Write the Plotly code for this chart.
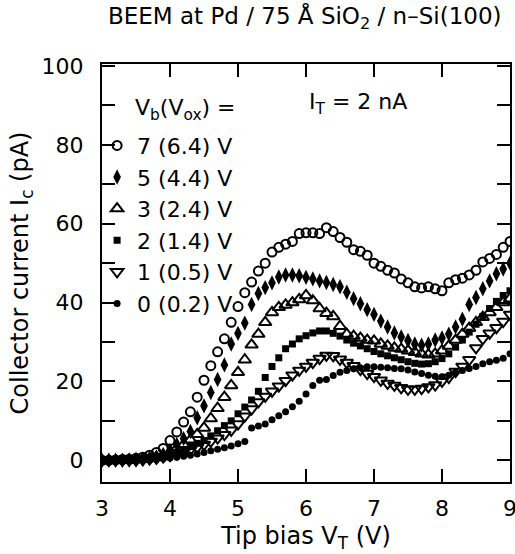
import plotly.graph_objects as go

# tip bias V_T (V)
tip_bias = [3.0, 3.1, 3.2, 3.3, 3.4, 3.5, 3.6, 3.7, 3.8, 3.9,
            4.0, 4.1, 4.2, 4.3, 4.4, 4.5, 4.6, 4.7, 4.8, 4.9,
            5.0, 5.1, 5.2, 5.3, 5.4, 5.5, 5.6, 5.7, 5.8, 5.9,
            6.0, 6.1, 6.2, 6.3, 6.4, 6.5, 6.6, 6.7, 6.8, 6.9,
            7.0, 7.1, 7.2, 7.3, 7.4, 7.5, 7.6, 7.7, 7.8, 7.9,
            8.0, 8.1, 8.2, 8.3, 8.4, 8.5, 8.6, 8.7, 8.8, 8.9, 9.0]

# collector current (pA) for each Vb
ic_7 = [0.0, 0.0, 0.1, 0.2, 0.3, 0.5, 0.8, 1.3, 2.0, 3.0,
        5.0, 7.2, 9.7, 12.3, 16.0, 20.3, 24.0, 27.5, 30.8, 35.0,
        39.0, 42.5, 45.2, 48.0, 50.0, 52.8, 54.0, 54.8, 55.5, 57.5,
        57.7, 57.7, 57.5, 59.0, 58.0, 56.5, 55.3, 53.4, 53.0, 52.0,
        50.0, 49.2, 48.2, 47.5, 46.0, 45.0, 44.0, 43.7, 44.0, 43.5,
        43.0, 45.0, 45.8, 46.2, 47.0, 48.2, 50.3, 51.2, 52.2, 54.0, 55.5]
ic_5 = [0.0, 0.0, 0.0, 0.0, 0.1, 0.2, 0.3, 0.5, 0.8, 1.5,
        2.5, 4.0, 5.5, 7.3, 10.8, 13.8, 17.2, 20.5, 24.2, 29.5,
        32.2, 34.8, 39.5, 42.3, 43.8, 45.0, 46.5, 47.0, 47.0, 46.8,
        46.4, 46.0, 45.5, 45.1, 44.6, 44.0, 42.6, 41.0, 39.7, 38.2,
        37.0, 35.3, 33.8, 32.3, 31.3, 30.4, 29.5, 29.2, 29.5, 30.5,
        31.0, 32.0, 33.8, 35.8, 39.5, 41.3, 43.5, 45.5, 47.3, 48.5, 50.0]
ic_3 = [0.0, 0.0, 0.0, 0.0, 0.1, 0.2, 0.3, 0.5, 0.8, 1.3,
        2.0, 3.0, 4.0, 5.2, 6.6, 8.2, 10.6, 13.2, 16.0, 19.0,
        22.3, 25.5, 29.3, 32.0, 35.0, 37.5, 38.8, 39.4, 40.0, 40.8,
        41.8, 40.5, 38.5, 37.3, 36.5, 34.0, 32.0, 31.5, 31.0, 30.5,
        30.3, 29.5, 29.0, 28.5, 28.2, 27.8, 27.4, 27.0, 26.8, 27.0,
        27.8, 29.0, 30.5, 32.0, 33.5, 35.0, 36.3, 37.5, 38.8, 40.0, 41.0]
ic_2 = [0.0, 0.0, 0.0, 0.0, 0.0, 0.1, 0.2, 0.4, 0.7, 1.0,
        1.5, 2.0, 2.7, 3.5, 4.3, 5.0, 6.2, 7.5, 8.8, 10.0,
        11.8, 13.5, 15.3, 17.5, 21.0, 23.8, 26.0, 28.3, 29.5, 30.8,
        31.6, 32.3, 32.8, 32.8, 32.2, 31.5, 30.5, 29.7, 29.0, 28.3,
        27.6, 27.0, 26.5, 26.0, 25.5, 25.0, 24.6, 24.4, 24.5, 25.0,
        25.8, 27.0, 28.7, 30.5, 32.5, 34.5, 36.5, 38.5, 40.3, 41.8, 43.0]
ic_1 = [0.0, 0.0, 0.0, 0.0, 0.0, 0.0, 0.1, 0.3, 0.5, 0.8,
        1.2, 1.6, 2.1, 2.7, 3.3, 4.0, 4.8, 5.6, 6.5, 7.6,
        9.2, 11.2, 13.0, 14.8, 16.2, 17.5, 18.8, 20.2, 21.6, 22.8,
        23.8, 24.8, 25.8, 26.6, 26.5, 25.6, 24.8, 24.0, 23.0, 22.0,
        21.2, 20.3, 19.5, 19.0, 18.4, 18.0, 18.0, 18.2, 18.6, 19.1,
        20.0, 21.0, 22.5, 23.8, 25.5, 28.5, 30.8, 32.2, 33.6, 35.2, 37.0]
ic_0 = [0.0, 0.0, 0.0, 0.0, 0.0, 0.0, 0.0, 0.1, 0.2, 0.4,
        0.6, 0.8, 1.0, 1.3, 1.6, 2.0, 2.4, 2.8, 3.2, 3.6,
        4.2, 4.8, 8.2, 8.7, 9.2, 10.3, 11.3, 12.3, 13.6, 15.0,
        16.8, 19.0, 20.3, 20.5, 21.5, 22.3, 22.8, 23.2, 23.5, 23.7,
        23.7, 23.6, 23.5, 23.3, 23.2, 22.9, 22.4, 22.0, 21.6, 21.3,
        21.2, 21.6, 22.3, 22.8, 23.3, 23.8, 24.5, 25.0, 25.4, 25.9, 27.0]

labels = ["7 (6.4) V", "5 (4.4) V", "3 (2.4) V", "2 (1.4) V", "1 (0.5) V", "0 (0.2) V"]
series = [ic_7, ic_5, ic_3, ic_2, ic_1, ic_0]
symbols = ["circle-open", "diamond-tall", "triangle-up-open", "square", "triangle-down-open", "circle"]
sizes = [9, 11, 11, 7, 11, 7]
outline = [2, 0, 2, 0, 2, 0]

FONT = "DejaVu Sans, Liberation Sans, sans-serif"
txt = dict(family=FONT, size=22, color="black")
big = dict(family=FONT, size=24, color="black")

fig = go.Figure()
for name, ys, sym, sz, lw in zip(labels, series, symbols, sizes, outline):
    fig.add_trace(go.Scatter(x=tip_bias, y=ys, mode="markers", name=name,
                             marker=dict(symbol=sym, size=sz, color="black",
                                         line=dict(color="black", width=lw))))

axis_common = dict(showline=True, linecolor="black", linewidth=2, mirror="ticks",
                   ticks="inside", ticklen=13, tickwidth=1.5, tickcolor="black",
                   showgrid=False, zeroline=False, automargin=False,
                   ticklabeloverflow="allow", tickfont=txt)

fig.update_xaxes(range=[3, 9], tickvals=[3, 4, 5, 6, 7, 8, 9], ticklabelstandoff=6,
                 title=dict(text="Tip bias V<sub>T</sub> (V)", font=big, standoff=7),
                 **axis_common)
fig.update_yaxes(range=[-5.5, 100.5], tickvals=[0, 20, 40, 60, 80, 100], ticklabelstandoff=12,
                 minor=dict(dtick=10, ticks="inside", ticklen=13, tickwidth=1.5, tickcolor="black"),
                 title=dict(text="Collector current I<sub>c</sub> (pA)", font=big, standoff=6),
                 **axis_common)

fig.add_annotation(text="BEEM at Pd / 75 Å SiO<sub>2</sub> / n–Si(100)", xref="paper", yref="paper",
                   x=0.4975, y=1.112, xanchor="center", yanchor="middle", showarrow=False,
                   font=dict(family=FONT, size=23, color="black"))
fig.add_annotation(text="V<sub>b</sub>(V<sub>ox</sub>) =", xref="paper", yref="paper",
                   x=0.077, y=0.892, xanchor="left", yanchor="middle", showarrow=False, font=txt)
fig.add_annotation(text="I<sub>T</sub> = 2 nA", xref="paper", yref="paper",
                   x=0.628, y=0.905, xanchor="center", yanchor="middle", showarrow=False, font=txt)

fig.update_layout(width=515, height=554, margin=dict(l=102, r=5, t=64, b=72),
                  plot_bgcolor="white", paper_bgcolor="white", font=txt,
                  legend=dict(x=-0.012, y=0.855, xanchor="left", yanchor="top",
                              bgcolor="rgba(0,0,0,0)", borderwidth=0, font=txt))

fig.write_html("out.html", config={"displayModeBar": False},
               post_script="document.body.style.margin='0';")
